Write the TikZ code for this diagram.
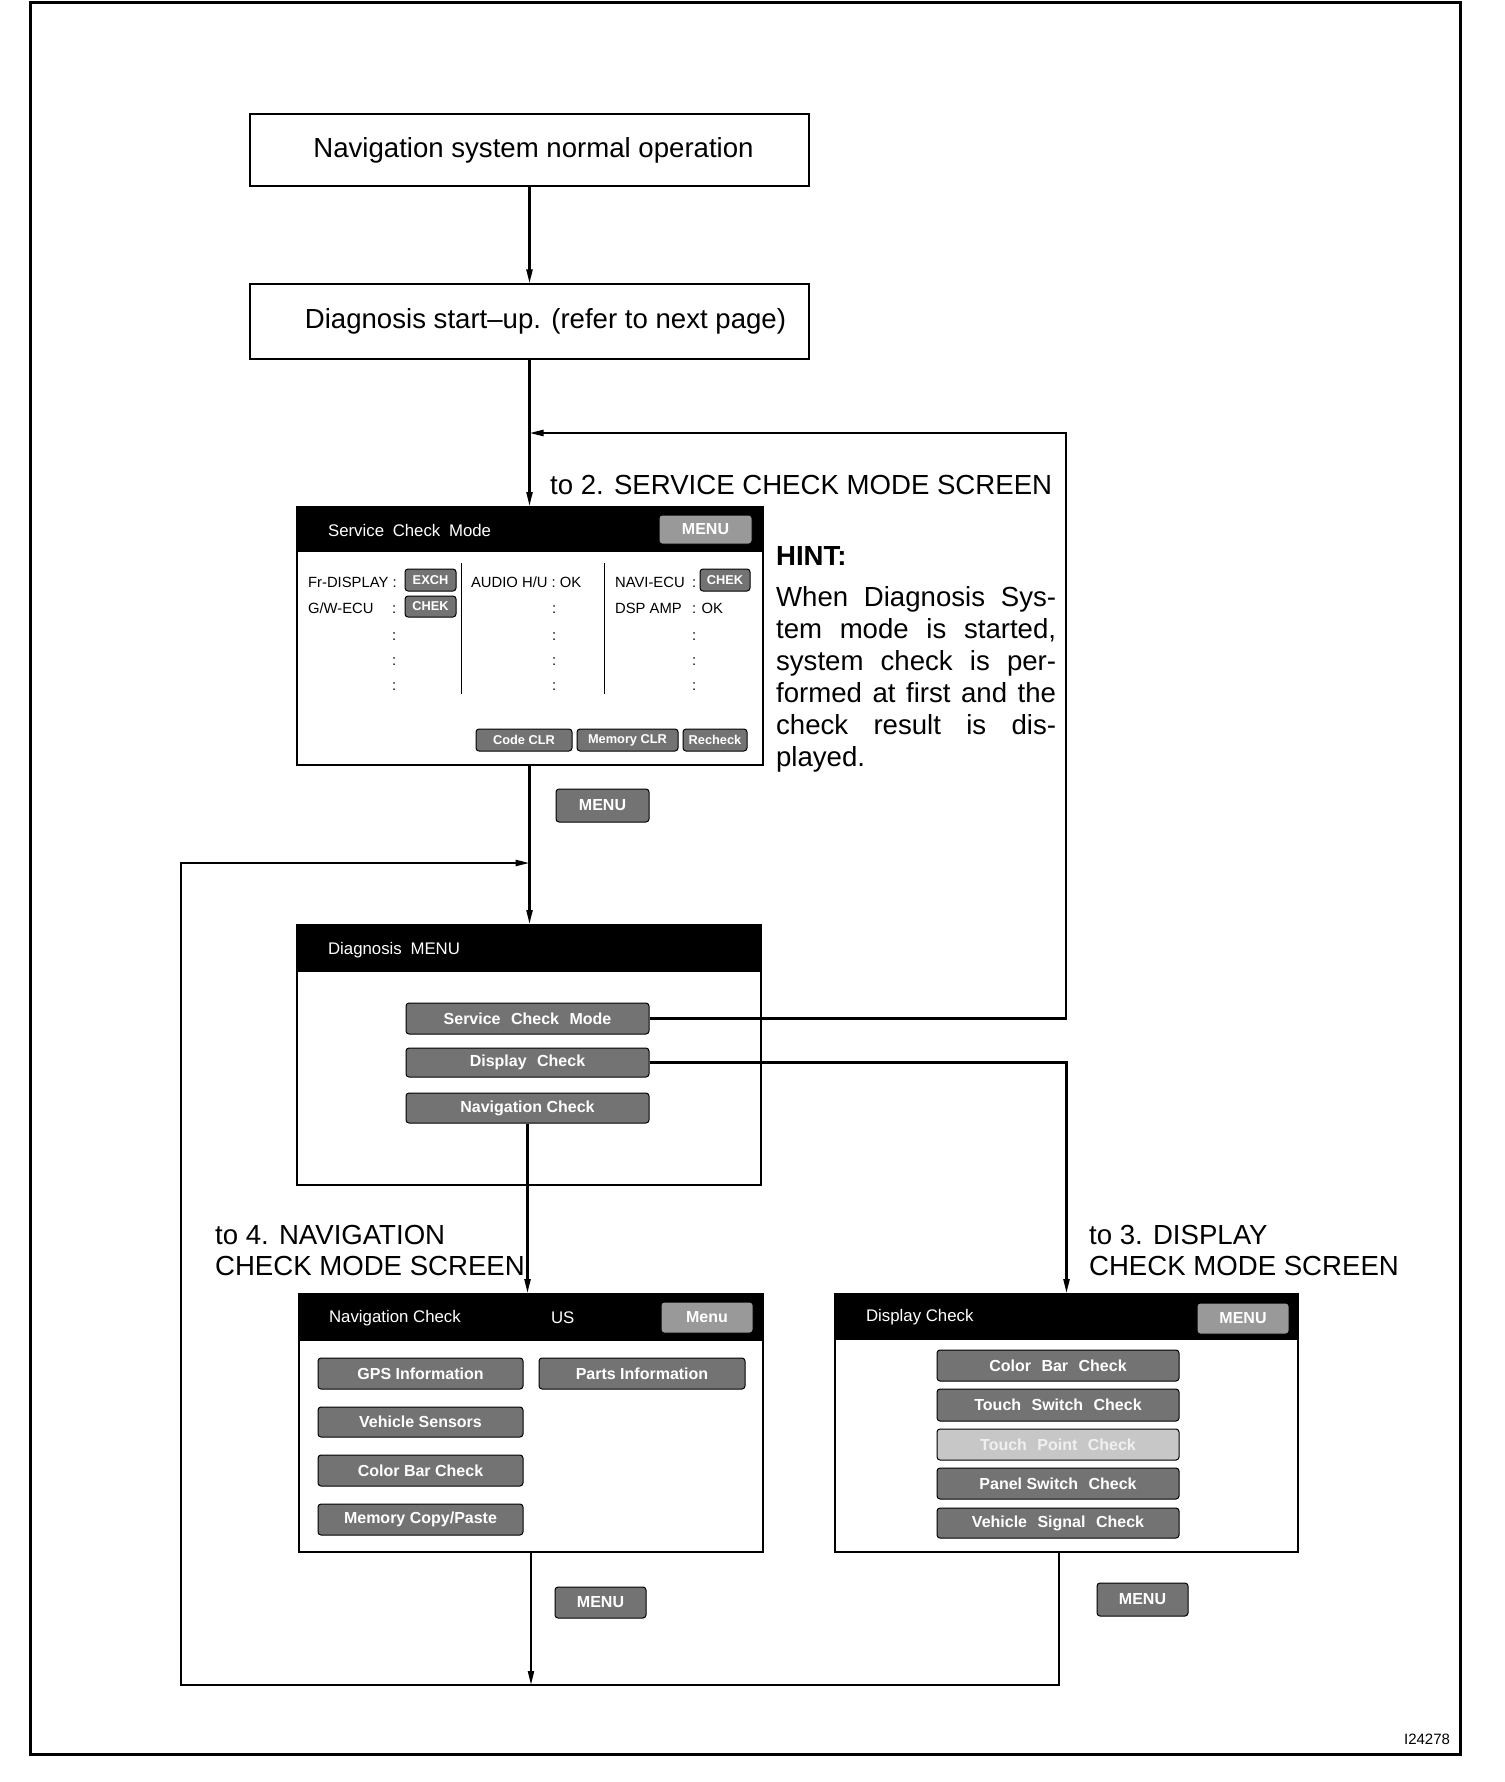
\documentclass[tikz,border=0pt]{standalone}
\usepackage{fontspec}
\setmainfont{Liberation Sans}
\usetikzlibrary{arrows.meta,positioning,calc,fit}

\begin{document}
\begin{tikzpicture}[x=0.5pt,y=-0.5pt,>={Triangle[length=7pt,width=3pt]},line width=1.1pt,
  flowbox/.style={draw,line width=0.6pt,minimum width=279.5pt,font=\fontsize{13.8}{16}\selectfont},
  screen/.style={draw,line width=0.9pt,inner sep=0pt},
  bar/.style={fill=black,inner sep=0pt},
  ttl/.style={white,anchor=west,inner sep=0pt,font=\fontsize{8.4}{10}\selectfont},
  btn/.style={draw,line width=0.5pt,rounded corners=1.5pt,fill=black!55,inner sep=0pt},
  btxt/.style={text=white,inner sep=0pt,font=\bfseries\fontsize{8}{10}\selectfont},
  stxt/.style={btxt,font=\bfseries\fontsize{6.4}{8}\selectfont},
  pale/.style={btn,fill=black!22},
  field/.style={anchor=west,inner sep=0pt,text height=1.6ex,text depth=0.3ex,font=\fontsize{7.4}{9}\selectfont},
  big/.style={inner sep=0pt,font=\fontsize{13.8}{15.5}\selectfont,align=left}]
\useasboundingbox (0,0) rectangle (1504,1782);
\draw[line width=1.5pt] (30,3) rectangle (1460,1754);

\node[flowbox,minimum height=36pt] (normal) at (529.5,150) {\hspace{4pt}Navigation system normal operation};
\node[flowbox,minimum height=37.5pt] (startup) at (529.5,321.5) {\hspace{16pt}Diagnosis start–up. (refer to next page)};

\node[screen,fit={(297,507)(763,765)}] (scm) {};
\node[bar,fit={(297,507)(763,552)}] (scmbar) {};
\node[ttl] at (327,530) {Service\hspace{2pt} Check\hspace{2pt} Mode};
\node[btn,fill=black!40,fit={(659,515)(752,544)},label={[btxt]center:MENU}] (scmmenu) {};
\node[field] (frd) at (307,581) {Fr-DISPLAY :};\node[btn,fit={(405,569)(456,591)},label={[stxt]center:EXCH}] (frdst) {};
\node[field] (gw) at (307,607) {G/W-ECU};\node[field] at (391,607) {:};\node[btn,fit={(405,596)(456,617)},label={[stxt]center:CHEK}] (gwst) {};
\foreach \y in {634,659,684} {\node[field] at (391,\y) {:};\node[field] at (551,\y) {:};\node[field] at (691,\y) {:};}
\node[field] (audio) at (470,581) {AUDIO H/U : OK};
\node[field] at (551,607) {:};
\node[field] (navi) at (614,581) {NAVI-ECU};\node[field] at (691,581) {:};\node[btn,fit={(700,569)(750,591)},label={[stxt]center:CHEK}] (navist) {};
\node[field] (dsp) at (614,607) {DSP AMP};\node[field] at (691,607) {: OK};
\draw[line width=0.5pt] (461,563) -- (461,694) (604,563) -- (604,694);
\node[btn,fit={(476,729)(572,751)},label={[stxt]center:Code CLR}] (codeclr) {};
\node[btn,fit={(577,729)(678,751)},label={[stxt]center:Memory CLR}] (memclr) {};
\node[btn,fit={(683,729)(747,751)},label={[stxt]center:Recheck}] (recheck) {};
\node[btn,fit={(556,789)(649,822)},label={[btxt]center:MENU}] (menua) {};

\node[big,anchor=west] (to2) at (549,485) {to 2. SERVICE CHECK MODE SCREEN};
\node[big,anchor=west,font=\bfseries\fontsize{13.8}{16}\selectfont] (hint) at (775,556) {HINT:};
\node[anchor=north west,inner sep=0pt,text width=140pt,align=justify,font=\fontsize{13.8}{16}\selectfont] (hinttext) at (775,585)
  {When Diagnosis Sys-\linebreak tem mode is started,\linebreak system check is per-\linebreak formed at first and the\linebreak check result is dis-\linebreak played.};

\node[screen,fit={(297,925)(761,1185)}] (dgm) {};
\node[bar,fit={(297,925)(761,972)}] (dgmbar) {};
\node[ttl] at (327,950) {Diagnosis\hspace{2pt} MENU};
\node[btn,fit={(406,1003)(649,1034)},label={[btxt]center:Service\hspace{3pt} Check\hspace{3pt} Mode}] (dgscm) {};
\node[btn,fit={(406,1048)(649,1077)},label={[btxt]center:Display\hspace{3pt} Check}] (dgdisp) {};
\node[btn,fit={(406,1093)(649,1123)},label={[btxt]center:Navigation Check}] (dgnav) {};

\node[big,anchor=west] (to4) at (214,1250) {to 4. NAVIGATION\\CHECK MODE SCREEN};
\node[big,anchor=west] (to3) at (1088,1250) {to 3. DISPLAY\\CHECK MODE SCREEN};

\node[screen,fit={(299,1294)(763,1552)}] (navck) {};
\node[bar,fit={(299,1294)(763,1341)}] (navbar) {};
\node[ttl] at (328,1318) {Navigation Check};
\node[ttl] at (550,1318) {US};
\node[btn,fill=black!40,fit={(661,1302)(753,1333)},label={[btxt]center:Menu}] (navmenu) {};
\node[btn,fit={(318,1358)(523,1389)},label={[btxt]center:GPS Information}] (gps) {};
\node[btn,fit={(539,1358)(745,1389)},label={[btxt]center:Parts Information}] (parts) {};
\node[btn,fit={(318,1407)(523,1437)},label={[btxt]center:Vehicle Sensors}] (sensor) {};
\node[btn,fit={(318,1455)(523,1486)},label={[btxt]center:Color Bar Check}] (navcol) {};
\node[btn,fit={(318,1504)(523,1535)},label={[btxt]center:Memory Copy/Paste}] (copy) {};
\node[btn,fit={(555,1587)(646,1618)},label={[btxt]center:MENU}] (menub) {};

\node[screen,fit={(835,1294)(1298,1552)}] (dspck) {};
\node[bar,fit={(835,1294)(1298,1340)}] (dspbar) {};
\node[ttl] at (865,1317) {Display Check};
\node[btn,fill=black!40,fit={(1197,1303)(1289,1334)},label={[btxt]center:MENU}] (dspmenu) {};
\node[btn,fit={(937,1350)(1179,1381)},label={[btxt]center:Color\hspace{3pt} Bar\hspace{3pt} Check}] (colbar) {};
\node[btn,fit={(937,1389)(1179,1421)},label={[btxt]center:Touch\hspace{3pt} Switch\hspace{3pt} Check}] (touchsw) {};
\node[pale,fit={(937,1429)(1179,1460)},label={[btxt,text=black!6]center:Touch\hspace{3pt} Point\hspace{3pt} Check}] (touchpt) {};
\node[btn,fit={(937,1468)(1179,1499)},label={[btxt]center:Panel Switch\hspace{3pt} Check}] (panel) {};
\node[btn,fit={(937,1508)(1179,1538)},label={[btxt]center:Vehicle\hspace{3pt} Signal\hspace{3pt} Check}] (vsig) {};
\node[btn,fit={(1097,1583)(1188,1616)},label={[btxt]center:MENU}] (menuc) {};

\coordinate (join2) at (529.5,433);
\coordinate (join4) at (529.5,863);
\draw[->] (normal) -- (startup);
\draw[->] (startup.south) -- (startup.south |- scm.north);
\draw[->] (startup.south |- scm.south) -- (startup.south |- dgm.north);
\draw[->] (dgscm.east) -| (1066,433) -- (join2);
\draw[->] (dgdisp.east) -| (dspck.north);
\draw[->] (dgnav.south) -- (dgnav.south |- navck.north);
\draw[->] ([xshift=-3.75pt]dspck.south) |- (181,1685) |- (join4);
\draw[->] (navck.south) -- (navck.south |- 0,1685);

\node[font=\fontsize{7.5}{9}\selectfont] (fig) at (1427,1739) {I24278};
\end{tikzpicture}
\end{document}
